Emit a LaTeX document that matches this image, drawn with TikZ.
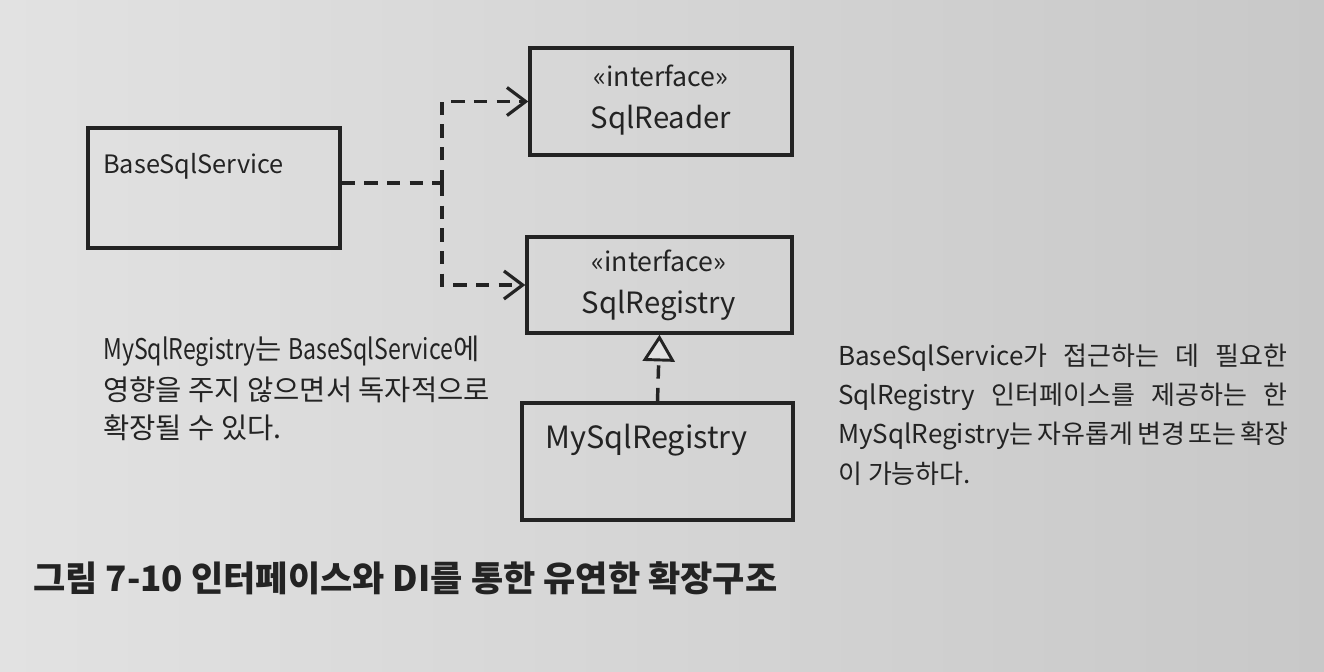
\documentclass[tikz,border=0pt]{standalone}
\usepackage{fontspec}
\setmainfont{Noto Sans CJK KR}
\usetikzlibrary{arrows.meta}
\definecolor{bgL}{RGB}{226,226,226}
\definecolor{bgR}{RGB}{200,200,200}
\definecolor{ink}{RGB}{35,35,35}
\newcommand\narrowlat[1]{\scalebox{0.81}[1]{#1}}
\tikzset{
  umlbox/.style={draw=ink, line width=2.6pt, inner sep=0pt},
  boxtxt/.style={text=ink, font=\fontsize{22}{25}\selectfont, inner sep=0pt},
  stereo/.style={text=ink, font=\fontsize{20}{23}\selectfont, inner sep=0pt},
  note/.style={text=ink, font=\fontsize{19.5}{23}\selectfont, inner sep=0pt, anchor=west},
  leftnote/.style={note, font=\fontsize{21.4}{25}\selectfont},
  dep/.style={draw=ink, line width=2.6pt, dash pattern=on 10pt off 7pt},
  deparrow/.style={dep, -{Straight Barb[length=14pt,width=21pt,line width=2.4pt]}},
  realize/.style={dep, -{Triangle[open,length=20pt,width=24pt,line width=2.2pt,fill=bgL]}}
}
\begin{document}
\begin{tikzpicture}[x=0.75pt,y=-0.75pt]
\shade[left color=bgL,right color=bgR] (0,0) rectangle (1324,671);
\useasboundingbox (0,0) rectangle (1324,671);
% boxes
\node[umlbox, minimum width=189pt, minimum height=90pt] (base) at (214,188) {};
\node[umlbox, minimum width=196.5pt, minimum height=80.25pt] (reader) at (661,101.5) {};
\node[umlbox, minimum width=198.75pt, minimum height=72pt] (reg) at (659.5,285) {};
\node[umlbox, minimum width=203.25pt, minimum height=87.75pt] (my) at (657.5,461.5) {};
% box texts
\node[boxtxt, font=\fontsize{19}{22}\selectfont, anchor=west] (baset) at (103,166) {BaseSqlService};
\node[stereo] (readers) at (661,76) {«interface»};
\node[boxtxt] (readert) at (661,120) {SqlReader};
\node[stereo] (regs) at (659,261) {«interface»};
\node[boxtxt] (regt) at (659,305) {SqlRegistry};
\node[boxtxt, font=\fontsize{23}{26}\selectfont, anchor=west] (myt) at (545,440) {MySqlRegistry};
% connectors
\coordinate (j) at (442,183);
\draw[dep] (base.east |- j) -- (j);
\draw[deparrow] (j) |- (reader.west);
\draw[deparrow] (j) |- (reg.west);
\draw[realize] (my.north) -- (reg.south);
% notes
\node[leftnote] (l1) at (103,351) {\narrowlat{MySqlRegistry}는 \narrowlat{BaseSqlService}에};
\node[leftnote] (l2) at (103,390) {영향을 주지 않으면서 독자적으로};
\node[leftnote] (l3) at (103,428) {확장될 수 있다.};
\node[note] (r1) at (838,358) {\makebox[337pt][s]{BaseSqlService가 접근하는 데 필요한}};
\node[note] (r2) at (838,397) {\makebox[337pt][s]{SqlRegistry 인터페이스를 제공하는 한}};
\node[note] (r3) at (838,436) {\makebox[337pt][s]{MySqlRegistry는 자유롭게 변경 또는 확장}};
\node[note] (r4) at (838,474) {이 가능하다.};
% caption
\node[text=ink, font=\bfseries\fontsize{26.3}{29}\selectfont, anchor=west, inner sep=0pt] (cap) at (33,578) {그림 7-10 인터페이스와 DI를 통한 유연한 확장구조};
\end{tikzpicture}
\end{document}
